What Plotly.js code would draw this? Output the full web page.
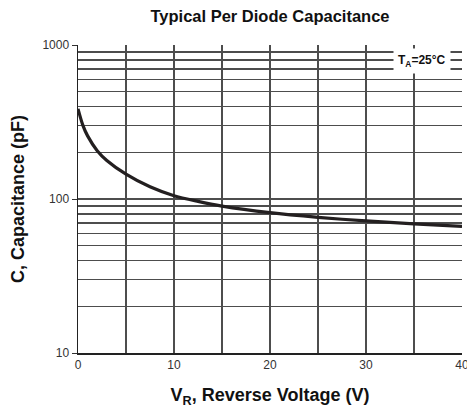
<!DOCTYPE html>
<html>
<head>
<meta charset="utf-8">
<script src="https://cdn.plot.ly/plotly-3.0.1.min.js"></script>
<style>html,body{margin:0;padding:0;background:#fff;overflow:hidden;}#chart{width:467px;height:412px;}</style>
</head>
<body>
<div id="chart"></div>
<script>
var voltage = [0, 0.5, 1, 2, 3, 5, 7.5, 10, 12.5, 15, 20, 25, 30, 35, 40];
var capacitance = [385, 302, 257, 206, 178, 145, 120, 105, 96.5, 90, 81.5, 76, 72, 69, 66.5];
var xTickVals = [0, 10, 20, 30, 40];
var xMinorVals = [5, 15, 25, 35];
var yTickVals = [10, 100, 1000];
var yTickText = ["10", "100", "1000"];
var yMinorVals = [20, 30, 40, 50, 60, 70, 80, 90, 200, 300, 400, 500, 600, 700, 800, 900];

var gridColor = "#4d4d4d";
var fontFam = "Liberation Sans, Arial, sans-serif";

var trace = {
  x: voltage, y: capacitance, type: "scatter", mode: "lines",
  line: {color: "#231f20", width: 3.2, shape: "spline", smoothing: 0.8},
  hoverinfo: "skip", cliponaxis: true
};

var layout = {
  width: 467, height: 412,
  margin: {l: 78, r: 5, t: 45, b: 59},
  paper_bgcolor: "#fff", plot_bgcolor: "#fff",
  showlegend: false,
  font: {family: fontFam, color: "#222"},
  title: {text: "<b>Typical Per Diode Capacitance</b>", font: {size: 16.5, color: "#111", family: fontFam},
          x: 0.5, xref: "paper", xanchor: "center", y: 0.96, yref: "container", yanchor: "middle"},
  xaxis: {
    range: [0, 40], tickmode: "array", tickvals: xTickVals,
    showgrid: true, gridcolor: gridColor, gridwidth: 1.3,
    zeroline: false, showline: true, linecolor: "#222", linewidth: 1.5,
    ticks: "", tickfont: {size: 12, color: "#333"}, ticklabeloverflow: "allow",
    minor: {tickvals: xMinorVals, showgrid: true, gridcolor: gridColor, gridwidth: 1.3, ticks: ""},
    title: {text: "<b>V<sub>R</sub>, Reverse Voltage (V)</b>", font: {size: 18, color: "#111"}, standoff: 17},
    automargin: false
  },
  yaxis: {
    type: "log", range: [1, 3], tickmode: "array", tickvals: yTickVals, ticktext: yTickText,
    showgrid: true, gridcolor: gridColor, gridwidth: 1.3,
    zeroline: false, showline: true, linecolor: "#222", linewidth: 1.5,
    ticks: "outside", ticklen: 5, tickcolor: "#333", tickwidth: 1, tickfont: {size: 12, color: "#333"},
    ticklabeloverflow: "allow",
    minor: {tickvals: yMinorVals, showgrid: true, gridcolor: gridColor, gridwidth: 1.3, ticks: ""},
    title: {text: "<b>C, Capacitance (pF)</b>", font: {size: 18, color: "#111"}, standoff: 13},
    automargin: false
  },
  annotations: [{
    xref: "paper", yref: "paper", x: 0.897, y: 0.948, xanchor: "center", yanchor: "middle",
    text: "<b>T<sub>A</sub>=25°C</b>", showarrow: false,
    font: {size: 12, color: "#111", family: fontFam},
    bgcolor: "#ffffff", borderpad: 4
  }]
};

Plotly.newPlot("chart", [trace], layout, {staticPlot: true, displayModeBar: false});
</script>
</body>
</html>
